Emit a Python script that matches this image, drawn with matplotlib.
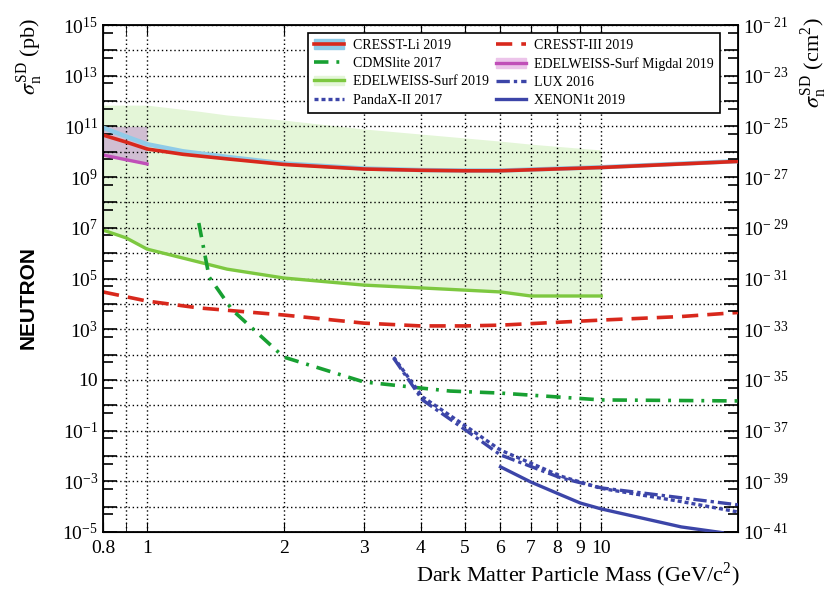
import matplotlib
matplotlib.use("Agg")
import matplotlib.pyplot as plt
import numpy as np
from matplotlib.lines import Line2D
from matplotlib.patches import Patch
from matplotlib.ticker import FixedLocator, NullFormatter

plt.rcParams['font.family'] = ['Liberation Serif', 'DejaVu Serif']
plt.rcParams['mathtext.fontset'] = 'stix'

# limits (cross-section in pb, mass in GeV/c^2)
cresst_li_m = [0.8, 0.9, 1.0, 1.2, 1.5, 2.0, 3.0, 4.0, 5.0, 6.0, 10.0, 20.0]
cresst_li_s = [10**10.66, 10**10.38, 10**10.11, 10**9.9, 10**9.72, 10**9.5, 10**9.32,
               10**9.27, 10**9.25, 10**9.25, 10**9.38, 10**9.62]
cresst_li_band = [10**10.95, 10**10.6, 10**10.3, 10**10.02, 10**9.8, 10**9.54, 10**9.34,
                  10**9.28, 10**9.26, 10**9.26, 10**9.39, 10**9.63]

cresst3_m = [0.8, 1.0, 1.3, 2.0, 3.0, 4.0, 5.0, 6.0, 10.0, 15.0, 20.0]
cresst3_s = [10**4.47, 10**4.11, 10**3.84, 10**3.56, 10**3.24, 10**3.13, 10**3.13,
             10**3.16, 10**3.36, 10**3.5, 10**3.66]

cdmslite_m = [1.30, 1.37, 1.54, 2.0, 3.0, 4.0, 4.65, 6.0, 10.0, 20.0]
cdmslite_s = [10**7.19, 10**5.06, 10**3.76, 10**1.9, 10**0.92, 10**0.68, 10**0.56,
              10**0.48, 10**0.21, 10**0.17]

edw_m = [0.8, 0.9, 1.0, 1.3, 1.5, 2.0, 3.0, 4.0, 6.0, 7.0, 10.0]
edw_s = [10**6.91, 10**6.6, 10**6.16, 10**5.65, 10**5.37, 10**5.02, 10**4.74,
         10**4.63, 10**4.47, 10**4.31, 10**4.31]
edw_top = [10**11.84, 10**11.84, 10**11.84, 10**11.6, 10**11.45, 10**11.25, 10**10.9,
           10**10.7, 10**10.42, 10**10.3, 10**10.07]

migdal_m = [0.8, 1.0]
migdal_s = [10**9.87, 10**9.52]
migdal_top = [1e11, 1e11]

lux_m = [3.49, 4.04, 5.03, 6.0, 8.16, 10.0, 15.0, 20.0]
lux_s = [10**1.86, 10**0.21, 10**-0.98, 10**-1.96, 10**-2.87, 10**-3.26, 10**-3.65,
         10**-3.93]
pandax_m = [3.49, 4.04, 5.03, 6.0, 8.16, 10.0, 15.0, 20.0]
pandax_s = [10**1.9, 10**0.33, 10**-0.82, 10**-1.77, 10**-2.8, 10**-3.28, 10**-3.8,
            10**-4.21]
xenon_m = [6.0, 7.0, 8.16, 9.0, 10.0, 15.0, 18.7]
xenon_s = [10**-2.43, 10**-3.03, 10**-3.54, 10**-3.86, 10**-4.09, 10**-4.8, 10**-5.04]

x_ticks = [0.8, 1, 2, 3, 4, 5, 6, 7, 8, 9, 10]
x_grid = [0.9, 1, 2, 3, 4, 5, 6, 7, 8, 9, 10]

red = '#d8281c'
lightblue = '#8fcbe8'
dkgreen = '#18a032'
ltgreen = '#7dc840'
fillgreen = '#e4f6d8'
magenta = '#c04fb8'
mauve = '#d0bed2'
blue = '#3c45a8'

ls_cresst3 = (0, (4.5, 2.5))
ls_cdms = (0, (4, 2.2, 0.8, 2.2))
ls_lux = (0, (4, 1.2, 1, 1.2))
ls_pandax = (0, (1.2, 0.9))

fig = plt.figure(figsize=(8.39, 5.96), dpi=100)
ax = fig.add_axes([0.1228, 0.1074, 0.7568, 0.8506])

ax.fill_between(edw_m, edw_s, edw_top, color=fillgreen, lw=0, zorder=1)
ax.fill_between(migdal_m, migdal_s, migdal_top, color=mauve, lw=0, zorder=1.5)

# grid
for xv in x_grid:
    ax.axvline(xv, color='k', ls=(0, (1, 2)), lw=1.0, zorder=2)
for e in range(-5, 16):
    ax.axhline(10.0**e, color='k', ls=(0, (1, 2)), lw=1.0, zorder=2)

ax.plot(cresst_li_m, cresst_li_band, color=lightblue, lw=3.2, zorder=3)
ax.plot(cresst_li_m, cresst_li_s, color=red, lw=2.6, zorder=4)
ax.plot(migdal_m, migdal_s, color=magenta, lw=2.4, zorder=4)
ax.plot(edw_m, edw_s, color=ltgreen, lw=2.4, zorder=4)
ax.plot(cresst3_m, cresst3_s, color=red, lw=2.6, ls=ls_cresst3, zorder=4)
ax.plot(cdmslite_m, cdmslite_s, color=dkgreen, lw=2.6, ls=ls_cdms, zorder=4)
ax.plot(lux_m, lux_s, color=blue, lw=2.4, ls=ls_lux, zorder=4)
ax.plot(pandax_m, pandax_s, color=blue, lw=2.4, ls=ls_pandax, zorder=4)
ax.plot(xenon_m, xenon_s, color=blue, lw=2.4, zorder=4)

ax.set_xscale('log')
ax.set_yscale('log')
ax.set_xlim(0.8, 20)
ax.set_ylim(1e-5, 1e15)

ax.xaxis.set_major_locator(FixedLocator(x_ticks))
ax.xaxis.set_minor_locator(FixedLocator([0.9]))
ax.xaxis.set_minor_formatter(NullFormatter())
ax.set_xticklabels(['0.8', '1', '2', '3', '4', '5', '6', '7', '8', '9', '10'])
ax.tick_params(axis='x', which='both', direction='in', top=True, length=7,
               labelsize=14, pad=6)

ymaj = [10.0**e for e in range(-5, 16)]
ymin = [5 * 10.0**e for e in range(-6, 15)]
ax.yaxis.set_major_locator(FixedLocator(ymaj))
ax.yaxis.set_minor_locator(FixedLocator(ymin))
ax.yaxis.set_minor_formatter(NullFormatter())


def left_label(e):
    if e % 2 == 0:
        return ''
    if e == 1:
        return '10'
    return r'$\mathregular{10^{%d}}$' % e


ax.set_yticklabels([left_label(e) for e in range(-5, 16)])
ax.tick_params(axis='y', which='major', direction='in', length=10, width=1.2,
               labelsize=14, right=False)
ax.tick_params(axis='y', which='minor', direction='in', length=7, width=1.2,
               right=False)
for s in ax.spines.values():
    s.set_linewidth(1.3)

ax2 = ax.twinx()
ax2.set_yscale('log')
ax2.set_ylim(1e-41, 1e-21)
ax2.yaxis.set_major_locator(FixedLocator([10.0**e for e in range(-41, -20)]))
ax2.yaxis.set_minor_locator(FixedLocator([5 * 10.0**e for e in range(-42, -21)]))
ax2.yaxis.set_minor_formatter(NullFormatter())
ax2.set_yticklabels([r'$\mathregular{10^{-\ %d}}$' % -e if e % 2 else ''
                     for e in range(-41, -20)])
ax2.tick_params(axis='y', which='major', direction='in', length=10, width=1.2,
                labelsize=14)
ax2.tick_params(axis='y', which='minor', direction='in', length=7, width=1.2)

fig.text(0.036, 0.905, r'$\sigma_{\mathregular{n}}^{\mathregular{SD}}$ (pb)',
         rotation=90, fontsize=16, ha='center', va='center')
fig.text(0.970, 0.895, r'$\sigma_{\mathregular{n}}^{\mathregular{SD}}$ (cm$^{\mathregular{2}}$)',
         rotation=90, fontsize=16, ha='center', va='center')
fig.text(0.033, 0.50, 'NEUTRON', rotation=90, fontsize=15, fontweight='bold',
         family=['Liberation Sans', 'DejaVu Sans'], ha='center', va='center')
fig.text(0.882, 0.035, r'Dark Matter Particle Mass (GeV/c$^{\mathregular{2}}$)',
         fontsize=16, ha='right', va='center')

handles = [
    (Patch(color=lightblue), Line2D([], [], color=red, lw=2.6)),
    Line2D([], [], color=dkgreen, lw=2.6, ls=ls_cdms),
    (Patch(color=fillgreen), Line2D([], [], color=ltgreen, lw=2.4)),
    Line2D([], [], color=blue, lw=2.4, ls=ls_pandax),
    Line2D([], [], color=red, lw=2.6, ls=ls_cresst3),
    (Patch(color='#ecc4ea'), Line2D([], [], color=magenta, lw=2.4)),
    Line2D([], [], color=blue, lw=2.4, ls=ls_lux),
    Line2D([], [], color=blue, lw=2.4),
]
labels = ['CRESST-Li 2019', 'CDMSlite 2017', 'EDELWEISS-Surf 2019', 'PandaX-II 2017',
          'CRESST-III 2019', 'EDELWEISS-Surf Migdal 2019', 'LUX 2016', 'XENON1t 2019']
leg = ax.legend(handles, labels, ncol=2, loc='upper left',
                bbox_to_anchor=(0.323, 0.984), fontsize=10, frameon=True,
                fancybox=False, edgecolor='k', framealpha=1, borderpad=0.4,
                labelspacing=0.38, handlelength=2.2, handletextpad=0.6,
                columnspacing=0.5, borderaxespad=0)
leg.get_frame().set_linewidth(1.2)
leg.set_zorder(10)

fig.savefig('out.png', dpi=100)
